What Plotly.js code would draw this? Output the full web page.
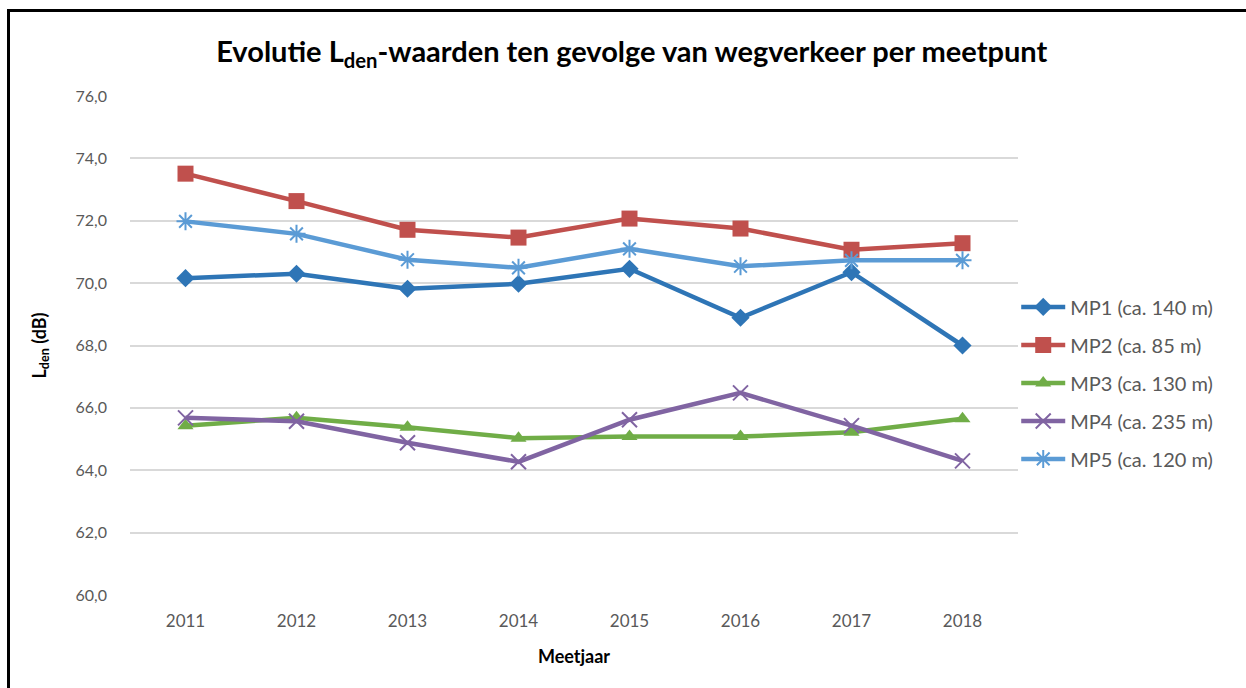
<!DOCTYPE html>
<html>
<head>
<meta charset="utf-8">
<script src="https://cdn.plot.ly/plotly-3.0.1.min.js"></script>
<style>
  html, body { margin: 0; padding: 0; background: #fff; }
  #chart { width: 1246px; height: 688px; position: absolute; left: 0; top: 0; }
  #frame { position: absolute; left: 7px; top: 9px; width: 1239px; height: 679px;
           border-left: 3px solid #000; border-top: 3px solid #000; pointer-events: none; }
</style>
</head>
<body>
<div id="chart"></div>
<div id="frame"></div>
<script>
const years = ['2011', '2012', '2013', '2014', '2015', '2016', '2017', '2018'];
const mp1 = [70.16, 70.30, 69.82, 69.98, 70.46, 68.89, 70.35, 68.00];
const mp2 = [73.51, 72.63, 71.71, 71.46, 72.07, 71.75, 71.07, 71.28];
const mp3 = [65.43, 65.68, 65.38, 65.03, 65.08, 65.08, 65.22, 65.65];
const mp4 = [65.68, 65.57, 64.88, 64.27, 65.62, 66.48, 65.43, 64.30];
const mp5 = [71.98, 71.58, 70.75, 70.49, 71.10, 70.54, 70.73, 70.73];
const names = ['MP1 (ca. 140 m)', 'MP2 (ca. 85 m)', 'MP3 (ca. 130 m)', 'MP4 (ca. 235 m)', 'MP5 (ca. 120 m)'];
const colors = ['#2E75B6', '#C0504D', '#70AD47', '#8064A2', '#5B9BD5'];
const symbols = ['diamond', 'square', 'triangle-up', 'x-thin-open', 'asterisk-open'];
const sizes = [14, 16, 14, 15, 15];
const series = [mp1, mp2, mp3, mp4, mp5];

const traces = series.map((ys, i) => ({
  type: 'scatter',
  mode: 'lines+markers',
  x: years,
  y: ys,
  name: names[i],
  legendgroup: 'g' + i,
  line: { color: colors[i], width: 4.5 },
  marker: { symbol: symbols[i], size: sizes[i], color: colors[i],
            line: { color: colors[i], width: (i >= 3 ? 2 : 0) } }
}));

const layout = {
  width: 1246, height: 688,
  margin: { l: 130, r: 228, t: 96, b: 93 },
  paper_bgcolor: '#ffffff',
  plot_bgcolor: '#ffffff',
  font: { family: 'Lato, "Open Sans", sans-serif', color: '#595959' },
  title: {
    text: 'Evolutie L<sub>den</sub>-waarden ten gevolge van wegverkeer per meetpunt',
    font: { size: 29, color: '#000000', family: 'Lato, "Open Sans", sans-serif', weight: 'bold' },
    x: 0.507, xanchor: 'center', xref: 'container',
    y: 0.925, yanchor: 'middle'
  },
  xaxis: {
    type: 'category',
    range: [-0.5, 7.5],
    showgrid: false,
    zeroline: false,
    showline: false,
    ticks: '',
    tickfont: { size: 17, color: '#595959' },
    ticklabelstandoff: 14,
    title: { text: 'Meetjaar', font: { size: 18, color: '#000000', weight: 'bold' }, standoff: 20 }
  },
  yaxis: {
    range: [60, 76],
    dtick: 2,
    tick0: 60,
    tickformat: '.1f',
    showgrid: true,
    gridcolor: '#d9d9d9',
    gridwidth: 2,
    zeroline: false,
    showline: false,
    ticks: '',
    tickfont: { size: 16, color: '#595959' },
    ticklabelstandoff: 22,
    title: { text: 'L<sub>den</sub> (dB)', font: { size: 18, color: '#000000', weight: 'bold' }, standoff: 24 }
  },
  separators: ',.',
  legend: {
    x: 0.998, xanchor: 'left', xref: 'paper',
    y: 0.425, yanchor: 'middle',
    font: { size: 20, color: '#595959' },
    traceorder: 'grouped',
    tracegroupgap: 9,
    itemwidth: 44,
    bgcolor: 'rgba(0,0,0,0)'
  },
  showlegend: true
};

Plotly.newPlot('chart', traces, layout, { displayModeBar: false, staticPlot: true });
</script>
</body>
</html>
